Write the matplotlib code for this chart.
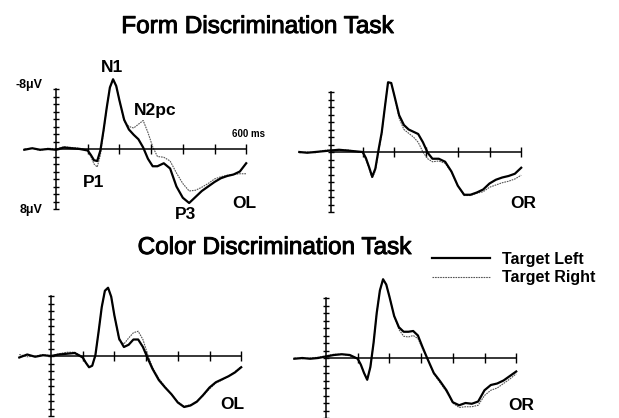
import matplotlib
matplotlib.use('Agg')
import matplotlib.pyplot as plt
import matplotlib.patheffects as pe
from matplotlib.lines import Line2D
import numpy as np

plt.rcParams['font.family'] = ['Liberation Sans', 'DejaVu Sans']

# --- DATA (ms, microvolts; negative plotted up) ---

t = [-100, -75, -50, -25, 0, 25, 50, 75, 100, 110, 120, 130, 140, 150, 160,
     170, 180, 190, 200, 215, 230, 245, 260, 275, 290, 305, 320, 340, 360,
     380, 400, 420, 440, 460, 480, 500, 520, 540, 560, 580, 600]

# Form discrimination, OL electrode
form_ol_left = [0.1, -0.1, 0.1, 0.0, 0.1, -0.2, -0.1, 0.0, 0.2, 0.8, 1.5, 1.6, 0.2,
                -2.5, -5.5, -8.2, -9.3, -8.4, -6.5, -3.9, -2.6, -1.9, -1.3, -0.2,
                1.3, 2.3, 2.3, 1.9, 2.6, 5.0, 6.5, 7.2, 6.4, 5.6, 5.0, 4.4, 3.9,
                3.6, 3.4, 3.0, 1.9]
form_ol_right = [0.0, -0.1, 0.2, -0.1, 0.0, -0.3, -0.2, -0.1, 0.2, 1.0, 2.0, 2.4, 0.8,
                 -2.3, -5.5, -8.2, -9.3, -8.4, -6.5, -3.7, -3.0, -2.8, -3.3, -3.8,
                 -2.2, -0.3, 1.0, 1.1, 1.6, 3.2, 4.6, 5.6, 5.5, 5.1, 4.6, 4.0, 3.7,
                 3.5, 3.4, 3.3, 3.3]

# Form discrimination, OR electrode
form_or_left = [0.0, 0.1, 0.0, -0.1, -0.2, -0.3, -0.2, -0.1, 0.0, 0.8, 2.0, 3.3, 2.2,
                -0.3, -2.6, -6.0, -9.3, -9.2, -7.5, -4.9, -3.6, -3.0, -2.7, -2.4,
                -1.3, 0.1, 0.9, 0.9, 1.3, 2.6, 4.5, 5.7, 5.7, 5.4, 5.0, 4.2, 3.7,
                3.4, 3.2, 2.9, 2.1]
form_or_right = [0.1, 0.0, 0.1, -0.2, -0.3, -0.2, -0.3, -0.1, 0.1, 1.0, 2.2, 3.5, 2.5,
                 0.0, -2.4, -6.0, -9.3, -9.2, -7.5, -4.5, -3.0, -2.5, -2.0, -1.3,
                 0.0, 0.9, 1.3, 1.2, 1.5, 2.7, 4.5, 5.8, 5.8, 5.5, 5.3, 4.7, 4.4,
                 4.1, 3.9, 3.6, 3.1]

# Color discrimination, OL electrode
color_ol_left = [0.2, -0.2, 0.1, -0.1, 0.0, -0.2, -0.3, -0.4, 0.2, 0.9, 1.5, 1.3, -0.1,
                 -3.2, -6.5, -8.7, -9.1, -7.9, -5.4, -2.3, -1.2, -1.5, -2.2, -2.2,
                 -1.2, 0.3, 1.7, 3.2, 4.2, 5.1, 6.2, 6.8, 6.6, 6.1, 5.2, 4.2, 3.5,
                 3.1, 2.7, 2.2, 1.5]
color_ol_right = [-0.2, 0.1, 0.0, -0.2, 0.0, -0.3, -0.5, -0.5, 0.1, 0.9, 1.5, 1.3, -0.1,
                  -3.2, -6.5, -8.7, -9.1, -7.9, -5.4, -2.1, -1.6, -2.4, -3.1, -3.3,
                  -2.2, -0.2, 1.5, 3.0, 4.1, 5.1, 6.1, 6.7, 6.5, 6.0, 5.3, 4.4, 3.6,
                  3.2, 2.7, 2.1, 1.4]

# Color discrimination, OR electrode
color_or_left = [0.1, 0.0, 0.1, 0.0, -0.2, -0.4, -0.5, -0.4, 0.1, 0.9, 2.0, 2.9, 1.2,
                 -2.0, -6.0, -9.0, -10.5, -9.8, -8.2, -5.6, -4.1, -3.5, -3.5, -3.6,
                 -3.0, -1.4, 0.1, 2.0, 3.1, 4.3, 5.9, 6.3, 6.0, 6.1, 5.8, 4.3, 3.6,
                 3.4, 3.0, 2.4, 1.8]
color_or_right = [0.0, 0.1, 0.0, -0.1, -0.3, -0.5, -0.5, -0.3, 0.1, 0.9, 2.0, 2.9, 1.2,
                  -2.0, -6.0, -9.0, -10.5, -9.8, -8.2, -5.6, -3.8, -2.9, -2.8, -3.0,
                  -2.6, -1.2, 0.2, 2.1, 3.3, 4.5, 6.0, 6.6, 6.5, 6.5, 6.3, 5.0, 4.3,
                  4.0, 3.4, 2.8, 2.1]

panels = [
    (form_ol_left, form_ol_right, 'OL', (56, 149)),
    (form_or_left, form_or_right, 'OR', (331, 152)),
    (color_ol_left, color_ol_right, 'OL', (51, 356)),
    (color_or_left, color_or_right, 'OR', (326, 358)),
]
site_label_pos = [(593, 7.2), (606, 6.8), (571, 6.5), (615, 6.3)]

# --- LAYOUT ---
W, H = 619, 418
PX_MS = 0.317   # pixels per ms
PX_UV = 7.5     # pixels per microvolt
XLIM = (-120, 640)
YLIM = (11, -12)

fig = plt.figure(figsize=(W / 100, H / 100), dpi=100)

solid_kw = dict(color='black', lw=1.6, solid_joinstyle='round')
dot_kw = dict(color='#555555', lw=0.8, linestyle=(0, (1.5, 0.8)))

axes = []
for (left, right, site, (ox, oy)), (lx, ly) in zip(panels, site_label_pos):
    x0 = ox + XLIM[0] * PX_MS
    x1 = ox + XLIM[1] * PX_MS
    ytop = oy + YLIM[1] * PX_UV
    ybot = oy + YLIM[0] * PX_UV
    ax = fig.add_axes([x0 / W, 1 - ybot / H, (x1 - x0) / W, (ybot - ytop) / H])
    ax.set_xlim(*XLIM)
    ax.set_ylim(*YLIM)
    ax.patch.set_alpha(0)

    ax.plot(t, right, **dot_kw)
    ax.plot(t, left, **solid_kw)

    for s in ['top', 'right']:
        ax.spines[s].set_visible(False)
    ax.spines['left'].set_position(('data', 0))
    ax.spines['bottom'].set_position(('data', 0))
    ax.spines['left'].set_bounds(-8, 8)
    ax.spines['bottom'].set_bounds(0, 600)
    ax.spines['left'].set_linewidth(1.1)
    ax.spines['bottom'].set_linewidth(1.1)
    ax.set_yticks(np.arange(-8, 9, 1))
    ax.set_xticks([100, 200, 300, 400, 500, 600])
    ax.tick_params(axis='y', direction='inout', length=5, width=1.0, labelleft=False)
    ax.tick_params(axis='x', direction='inout', length=7, width=1.0, labelbottom=False)

    ax.text(lx, ly, site, fontsize=12.5, fontweight='bold', ha='center', va='center')
    axes.append(ax)

# component labels on the first panel
ax = axes[0]
lab_kw = dict(fontsize=12.5, fontweight='bold', ha='center', va='center')
ax.text(177, -10.9, 'N1', **lab_kw)
ax.text(312, -5.1, 'N2pc', **lab_kw)
ax.text(117, 4.5, 'P1', **lab_kw)
ax.text(407, 8.7, 'P3', **lab_kw)
ax.text(606, -2.0, '600 ms', fontsize=7, fontweight='bold', ha='center', va='center')
ax.text(-85, -8.5, '-8\u03bcV', fontsize=9, fontweight='bold', ha='center', va='center')
ax.text(-79, 8.1, '8\u03bcV', fontsize=9, fontweight='bold', ha='center', va='center')

# titles (slight stroke to mimic the heavier scanned type)
heavy = [pe.withStroke(linewidth=0.7, foreground='black')]
fig.text(257 / W, 1 - 27 / H, 'Form Discrimination Task', fontsize=17.5,
         ha='center', va='center', path_effects=heavy)
fig.text(274 / W, 1 - 248 / H, 'Color Discrimination Task', fontsize=17.5,
         ha='center', va='center', path_effects=heavy)

# legend
handles = [Line2D([], [], **solid_kw), Line2D([], [], **dot_kw)]
fig.legend(handles, ['Target Left', 'Target Right'], loc='upper left',
           bbox_to_anchor=(432 / W, 1 - 252 / H), frameon=False,
           prop={'weight': 'bold', 'size': 11.5}, handlelength=3.6,
           handletextpad=0.8, labelspacing=0.2, borderpad=0, borderaxespad=0)

fig.savefig('out.png', dpi=100)
